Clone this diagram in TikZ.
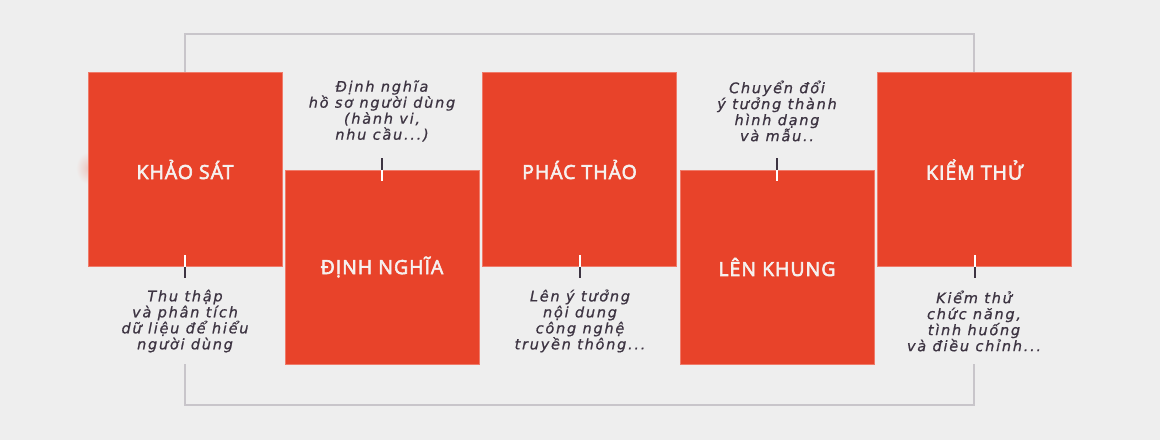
\documentclass[tikz,border=0pt]{standalone}
\usepackage{fontspec}
\newfontfamily\titlefont{Open Sans}[FakeBold=3,LetterSpace=5]
\newfontfamily\handfont{DejaVu Sans}[LetterSpace=12,FakeBold=0.8]
\definecolor{bgc}{HTML}{EEEEEE}
\definecolor{redc}{HTML}{E8432A}
\definecolor{framec}{HTML}{C8C5CA}
\definecolor{inkc}{HTML}{3D3442}
\definecolor{titlec}{HTML}{F6F1EF}
\tikzset{
  stepbox/.style={fill=redc, draw=redc!70!white, line width=0.6pt, minimum width=194pt, minimum height=194pt, inner sep=0pt,
    text=titlec, font=\titlefont\fontsize{19.5}{22}\selectfont},
  desc/.style={align=center, text=inkc, inner sep=0pt, font=\handfont\itshape\fontsize{14.5}{16}\selectfont},
  framel/.style={draw=framec, line width=2.6pt},
  tickd/.style={draw=inkc, line width=2pt},
  tickw/.style={draw=white, line width=2pt},
}
\begin{document}
\begin{tikzpicture}[x=1pt,y=-1pt]
\fill[bgc] (0,0) rectangle (1160,440);
\useasboundingbox (0,0) rectangle (1160,440);
% soft glow left of first box
\shade[inner color=redc!22!bgc, outer color=bgc] (88,168) ellipse (12pt and 16pt);
\path (185,169.5) coordinate (c1) (382,267) coordinate (c2) (579.5,169.5) coordinate (c3)
      (777,267) coordinate (c4) (974.5,169.5) coordinate (c5);
% frame behind boxes
\draw[framel] (185,72) -- (185,34) -- (974,34) -- (974,72);
\draw[framel] (185,364) -- (185,405) -- (974,405) -- (974,364);
\node[stepbox] (b1) at (c1) {KHẢO SÁT};
\node[stepbox] (b2) at (c2) {ĐỊNH NGHĨA};
\node[stepbox] (b3) at (c3) {PHÁC THẢO};
\node[stepbox] (b4) at (c4) {LÊN KHUNG};
\node[stepbox] (b5) at (c5) {KIỂM THỬ};
% ticks
\draw[tickw] (b1.south) -- ++(0,-11.5);
\draw[tickd] (b1.south) -- ++(0,11.5);
\draw[tickd] (b2.north) -- ++(0,-11.5);
\draw[tickw] (b2.north) -- ++(0,11.5);
\draw[tickw] (b3.south) -- ++(0,-11.5);
\draw[tickd] (b3.south) -- ++(0,11.5);
\draw[tickd] (b4.north) -- ++(0,-11.5);
\draw[tickw] (b4.north) -- ++(0,11.5);
\draw[tickw] (b5.south) -- ++(0,-11.5);
\draw[tickd] (b5.south) -- ++(0,11.5);
% descriptions
\node[desc] (d1) at (185,321) {Thu thập\\và phân tích\\dữ liệu để hiểu\\người dùng};
\node[desc] (d2) at (382,111) {Định nghĩa\\hồ sơ người dùng\\(hành vi,\\nhu cầu...)};
\node[desc] (d3) at (580,321) {Lên ý tưởng\\nội dung\\công nghệ\\truyền thông...};
\node[desc] (d4) at (777,111) {Chuyển đổi\\ý tưởng thành\\hình dạng\\và mẫu..};
\node[desc] (d5) at (974,321) {Kiểm thử\\chức năng,\\tình huống\\và điều chỉnh...};
\end{tikzpicture}
\end{document}
